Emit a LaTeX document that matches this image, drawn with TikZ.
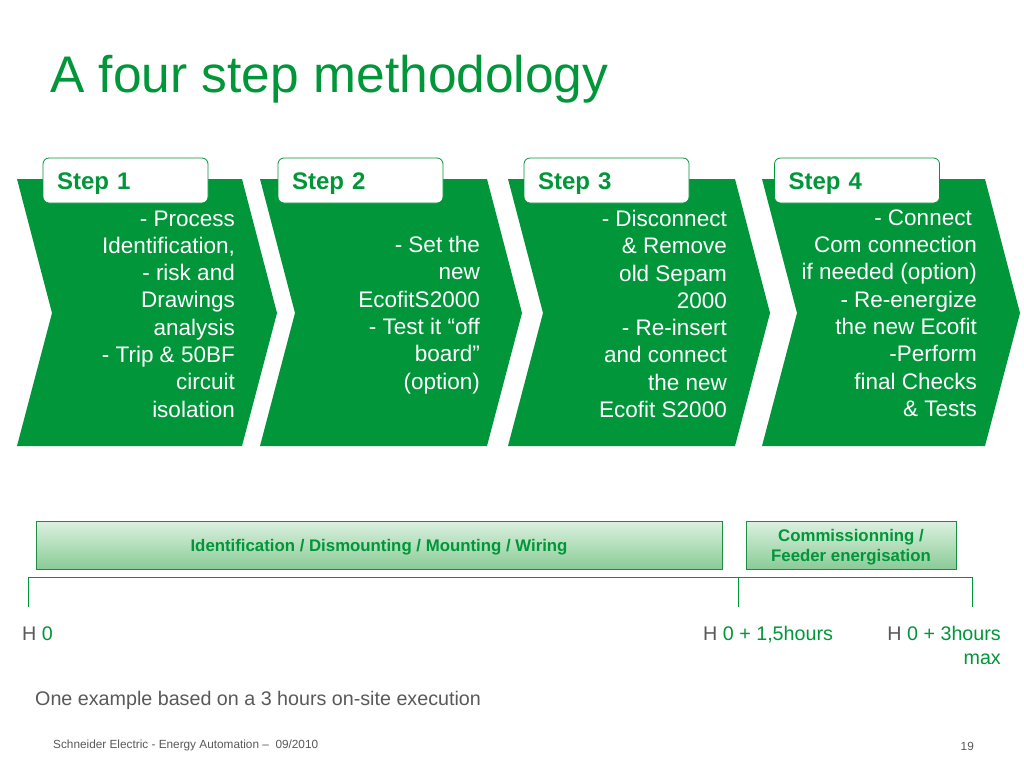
\documentclass[tikz,border=0pt]{standalone}
\usepackage{fontspec}
\setmainfont{Liberation Sans}

\definecolor{segreen}{RGB}{0,150,57}
\definecolor{segray}{RGB}{89,89,89}
\definecolor{barline}{RGB}{30,140,65}
\definecolor{bartop}{RGB}{138,203,150}
\definecolor{barbottom}{RGB}{220,241,224}

\begin{document}
\begin{tikzpicture}[x=1pt,y=-1pt,
    chevron/.style={fill=segreen},
    steptab/.style={draw=segreen, line width=0.8pt, fill=white, rounded corners=6pt,
        minimum height=45pt, text width=137pt, inner xsep=14pt, inner ysep=0pt, align=left,
        text height=23pt, text depth=5pt,
        text=segreen, font=\fontsize{24}{28}\selectfont\bfseries},
    steptext/.style={anchor=east, align=right, inner sep=0pt, text=white,
        font=\fontsize{22.5}{27.3}\selectfont},
    % y runs downwards here, so the shading is given upside down
    phasebar/.style={draw=barline, line width=0.9pt, top color=barbottom, bottom color=bartop,
        minimum height=48pt, inner sep=0pt, align=center, text=segreen,
        font=\fontsize{16.8}{20}\selectfont\bfseries},
    timeline/.style={draw=segreen, line width=1pt},
    timelabel/.style={inner sep=0pt, text=segreen, font=\fontsize{19.7}{24}\selectfont}]

        % Page
        \fill[white] (0,0) rectangle (1024,768);
        \useasboundingbox (0,0) rectangle (1024,768);

        % Title
        \node[anchor=base west, inner sep=0pt, text=segreen, font=\fontsize{51.5}{60}\selectfont] (title) at (50,92) {A four step methodology};

        % Drawing the four chevrons
        \foreach \l/\r in {17/242, 260/487, 508/735, 762/985}
            \fill[chevron] (\l,179) -- (\r,179) -- (\r+35,313) -- (\r,446) -- (\l,446) -- (\l+35,313) -- cycle;

        % Step tabs
        \foreach \cx [count=\i] in {125.5, 360.5, 606.5, 857}
            \node[steptab] (tab\i) at (\cx,180.5) {Step \i};

        % Step contents
        \node[steptext] (text1) at (235,314) {- Process\\Identification,\\- risk and\\Drawings\\analysis\\- Trip \& 50BF\\circuit\\isolation};
        \node[steptext] (text2) at (480,315) {- Set the\\new\\EcofitS2000\\- Test it ``off\\board''\\(option)};
        \node[steptext] (text3) at (727,314) {- Disconnect\\\& Remove\\old Sepam\\2000\\- Re-insert\\and connect\\the new\\Ecofit S2000};
        \node[steptext] (text4) at (977,313) {- Connect\hspace*{5pt}\\Com connection\\if needed (option)\\- Re-energize\hspace*{5pt}\\the new Ecofit\\-Perform\hspace*{5pt}\\final Checks\hspace*{5pt}\\\& Tests};

        % Phase bars
        \node[phasebar, minimum width=686pt, text height=17pt] (phase1) at (379,545) {Identification / Dismounting / Mounting / Wiring};
        \node[phasebar, minimum width=210pt, text height=37pt] (phase2) at (851,545) {Commissionning /\\Feeder energisation};

        % Time line
        \coordinate (h0) at (28,577);
        \coordinate (h15) at (738,577);
        \coordinate (h3) at (972,577);
        \draw[timeline] (h0) ++(0,30) -- (h0) -- (h3) -- ++(0,30);
        \draw[timeline] (h15) -- ++(0,30);

        % Time labels
        \node[timelabel, anchor=west] (lab0) at (22,634) {\textcolor{segray}{H} 0};
        \node[timelabel, anchor=west] (lab15) at (703,635) {\textcolor{segray}{H} 0 + 1,5hours};
        \node[timelabel, anchor=north east, align=right] (lab3) at (1001,626) {\textcolor{segray}{H} 0 + 3hours\\max};

        % Notes
        \node[anchor=west, inner sep=0pt, text=segray, font=\fontsize{19.7}{24}\selectfont] (note) at (35,700) {One example based on a 3 hours on-site execution};
        \node[anchor=west, inner sep=0pt, text=segray, font=\fontsize{11.8}{14}\selectfont] (footer) at (53,745) {Schneider Electric - Energy Automation -- \ 09/2010};
        \node[anchor=east, inner sep=0pt, text=segray, font=\fontsize{11.8}{14}\selectfont] (pageno) at (974,746) {19};

\end{tikzpicture}
\end{document}
